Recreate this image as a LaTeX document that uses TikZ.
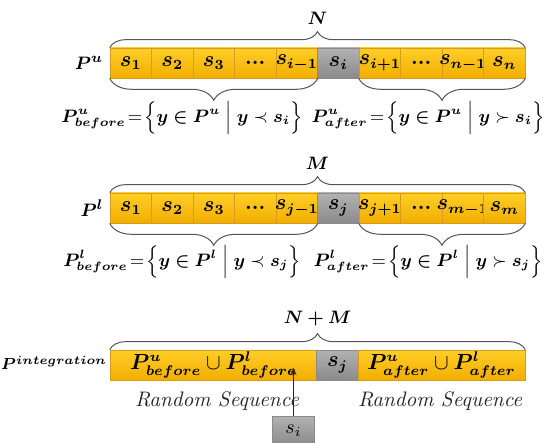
\documentclass[tikz,border=0pt]{standalone}
\usepackage{amsmath,amssymb,bm}
\usetikzlibrary{arrows.meta,positioning,decorations.pathreplacing,calc}
\definecolor{goldtop}{RGB}{255,206,40}
\definecolor{goldbot}{RGB}{242,174,0}
\definecolor{goldline}{RGB}{214,156,30}
\definecolor{greytop}{RGB}{178,178,178}
\definecolor{greybot}{RGB}{138,138,138}
\definecolor{bracegrey}{RGB}{85,85,85}
\newcommand{\dotsbox}{\textbf{...}}
\newcommand{\cellmath}[1]{\makebox[0pt]{$\bm{#1}$}}
\begin{document}
\begin{tikzpicture}[x=0.5pt,y=-0.5pt,
    ycell/.style={draw=goldline,line width=0.3pt,top color=goldtop,bottom color=goldbot,
                  minimum width=20.75pt,minimum height=15pt,inner sep=0pt,
                  font=\fontsize{10.5}{12}\selectfont},
    gcell/.style={ycell,draw=greybot,top color=greytop,bottom color=greybot},
    brc/.style={decorate,decoration={brace,amplitude=#1},draw=bracegrey,line width=0.5pt},
    lbl/.style={font=\fontsize{9}{11}\selectfont},
    rs/.style={font=\fontsize{10.5}{12}\selectfont\itshape,text=black!85},
    arr/.style={-{Stealth[length=3.5pt,width=3pt]},line width=0.5pt,color=black!85}
  ]
    \useasboundingbox (0,0) rectangle (545,443);
    % upper sequence
    \foreach \lab/\sty [count=\k] in {s_1/ycell,s_2/ycell,s_3/ycell,\dotsbox/ycell,s_{i-1}/ycell,
        s_i/gcell,s_{i+1}/ycell,\dotsbox/ycell,s_{n-1}/ycell,s_n/ycell}
      \node[\sty] (u\k) at ({130.75+41.5*(\k-1)},63) {\cellmath{\lab}};
    \node[lbl,font=\fontsize{9.5}{11}\selectfont] (pu) at (89,63) {$\bm{P^u}$};
    \draw[brc=8pt] (u1.north west) -- (u10.north east) node[midway,above=8pt,lbl] (n) {$\bm{N}$};
    \draw[brc=11pt] (u5.south east) -- (u1.south west);
    \draw[brc=11pt] (u10.south east) -- (u7.south west);
    \node[lbl] (pub) at (182,118) {$\bm{P^u_{before}}\!=\!\Bigl\{\bm{y\in P^u}\Bigm|\bm{y}\prec\bm{s_i}\Bigr\}$};
    \node[lbl] (pua) at (428,118) {$\bm{P^u_{after}}\!=\!\Bigl\{\bm{y\in P^u}\Bigm|\bm{y}\succ\bm{s_i}\Bigr\}$};
    % lower sequence
    \foreach \lab/\sty [count=\k] in {s_1/ycell,s_2/ycell,s_3/ycell,\dotsbox/ycell,s_{j-1}/ycell,
        s_j/gcell,s_{j+1}/ycell,\dotsbox/ycell,s_{m-1}/ycell,s_m/ycell}
      \node[\sty] (l\k) at ({130.75+41.5*(\k-1)},208) {\cellmath{\lab}};
    \node[lbl,font=\fontsize{9.5}{11}\selectfont] (pl) at (92,208) {$\bm{P^l}$};
    \draw[brc=8pt] (l1.north west) -- (l10.north east) node[midway,above=8pt,lbl] (m) {$\bm{M}$};
    \draw[brc=11pt] (l5.south east) -- (l1.south west);
    \draw[brc=11pt] (l10.south east) -- (l7.south west);
    \node[lbl] (plb) at (182,262) {$\bm{P^l_{before}}\!=\!\Bigl\{\bm{y\in P^l}\Bigm|\bm{y}\prec\bm{s_j}\Bigr\}$};
    \node[lbl] (pla) at (428,262) {$\bm{P^l_{after}}\!=\!\Bigl\{\bm{y\in P^l}\Bigm|\bm{y}\succ\bm{s_j}\Bigr\}$};
    % integrated sequence
    \node[ycell,minimum width=103.5pt] (ib) at (213.5,365)
      {$\bm{P^u_{before}}\cup\bm{P^l_{before}}$};
    \node[gcell] (ij) at (337.5,365) {\cellmath{s_j}};
    \node[ycell,minimum width=83.5pt] (ia) at (441.5,365)
      {$\bm{P^u_{after}}\cup\bm{P^l_{after}}$};
    \node[lbl,font=\fontsize{8.5}{10}\selectfont] (pint) at (54,363) {$\bm{P^{integration}}$};
    \draw[brc=8pt] (ib.north west) -- (ia.north east) node[midway,above=8pt,lbl] (nm) {$\bm{N+M}$};
    \node[rs] (rsb) at (217,401) {Random Sequence};
    \node[rs] (rsa) at (440,401) {Random Sequence};
    \node[gcell,font=\fontsize{10}{12}\selectfont] (si) at (293.5,431) {$s_i$};
    \coordinate (hit) at ($(si.north |- ib.center)+(0,3)$);
    \draw[arr] (si.north) -- (hit);
  \end{tikzpicture}
\end{document}
